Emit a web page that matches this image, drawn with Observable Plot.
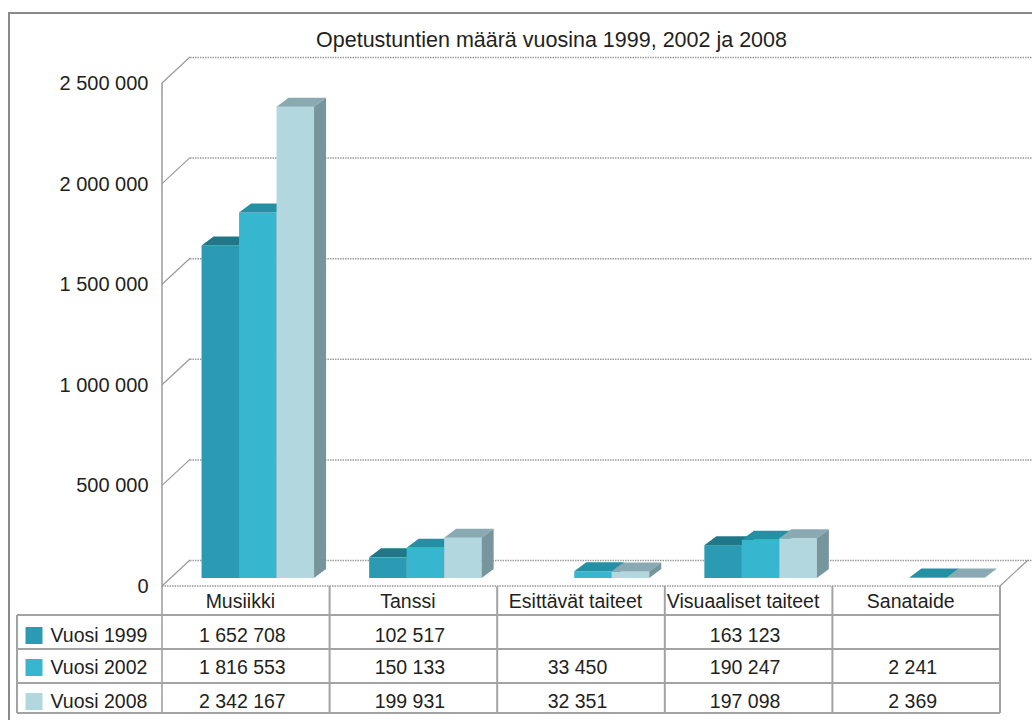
<!DOCTYPE html>
<html><head><meta charset="utf-8">
<script src="https://cdn.jsdelivr.net/npm/d3@7"></script>
<script src="https://cdn.jsdelivr.net/npm/@observablehq/plot@0.6"></script>
<style>
body{margin:0;background:#fff;}
#wrap{position:relative;width:1032px;height:720px;overflow:hidden;background:#fff;}
#chart{position:absolute;left:0;top:0;}
#border{position:absolute;left:8px;top:12px;width:2000px;height:2000px;border-left:2px solid #8a8a8a;border-top:2px solid #8a8a8a;pointer-events:none;}
</style></head><body>
<div id="wrap"><div id="chart"></div><div id="border"></div></div>
<script>
// ---- data ----
const title = "Opetustuntien määrä vuosina 1999, 2002 ja 2008";
const categories = ["Musiikki", "Tanssi", "Esittävät taiteet", "Visuaaliset taiteet", "Sanataide"];
const seriesNames = ["Vuosi 1999", "Vuosi 2002", "Vuosi 2008"];
const values1999 = [1652708, 102517, null, 163123, null];
const values2002 = [1816553, 150133, 33450, 190247, 2241];
const values2008 = [2342167, 199931, 32351, 197098, 2369];
const yTicks = [0, 500000, 1000000, 1500000, 2000000, 2500000];

// ---- style ----
const FONT = "'Liberation Sans', Arial, sans-serif";
const TXT = "#231f20";
const colors = ["#2a9bb2", "#36b7cf", "#b3d7df"];
const topColors = ["#1e7887", "#2490a3", "#8aaab3"];
const sideColors = ["#1a6a78", "#1f8294", "#76959d"];
const W = 1032, H = 720, ML = 162, MR = 32, MT = 75, MB = 142;
const BAND = (W - ML - MR) / categories.length;
const BW = 37.5, INSET = (BAND - BW) / 2, GROUP_DX = 12;
const DX = 12, DY = 9;            // bar depth
const FRONT_DY = 8;               // front plane offset
const BACK_DX = 28, BACK_DY = -18; // back wall offset
const ROW_DY = [23, 57, 89, 123];  // table text rows (from frame bottom)
const ROW_LINES = [37, 71, 105, 135];
const LEGEND_LEFT = 145;

const series = [values1999, values2002, values2008];
const fmt = v => v == null ? "" : d3.format(",")(v).replace(/,/g, " ");
const seriesData = i => categories.map((c, j) => ({cat: c, value: series[i][j]})).filter(d => d.value != null);
const barDx = i => GROUP_DX + (i - 1) * BW;

const faces = i => (index, scales) => {
  const g = d3.create("svg:g");
  for (const d of seriesData(i)) {
    const x0 = scales.x(d.cat) + INSET + barDx(i), x1 = x0 + BW;
    const yt = scales.y(d.value), yb = scales.y(0);
    g.append("path").attr("fill", topColors[i])
      .attr("d", `M${x0},${yt}L${x0 + DX},${yt - DY}L${x1 + DX},${yt - DY}L${x1},${yt}Z`);
    g.append("path").attr("fill", sideColors[i])
      .attr("d", `M${x1},${yt}L${x1 + DX},${yt - DY}L${x1 + DX},${yb - DY}L${x1},${yb}Z`);
  }
  return g.node();
};

const deco = (index, scales, values, dims) => {
  const L = dims.marginLeft, R = dims.width - dims.marginRight, B = dims.height - dims.marginBottom;
  const g = d3.create("svg:g").attr("fill", "none");
  const yf0 = scales.y(0) + FRONT_DY;
  const tableBottom = B + ROW_LINES[ROW_LINES.length - 1];
  for (const t of yTicks) {
    g.append("line").attr("x1", L).attr("y1", scales.y(t) + FRONT_DY)
      .attr("x2", L + BACK_DX).attr("y2", scales.y(t) + BACK_DY)
      .attr("stroke", "#9a9a9a").attr("stroke-width", 1.2);
  }
  g.append("line").attr("x1", L).attr("x2", L)
    .attr("y1", scales.y(yTicks[yTicks.length - 1]) + FRONT_DY).attr("y2", tableBottom)
    .attr("stroke", "#9a9a9a").attr("stroke-width", 1.5);
  g.append("line").attr("x1", L).attr("x2", R).attr("y1", yf0).attr("y2", yf0)
    .attr("stroke", "#9a9a9a").attr("stroke-width", 1.5).attr("stroke-dasharray", "1.5,1");
  g.append("line").attr("x1", R).attr("y1", yf0).attr("x2", R + BACK_DX).attr("y2", scales.y(0) + BACK_DY)
    .attr("stroke", "#9a9a9a").attr("stroke-width", 1.2);
  for (const r of ROW_LINES) {
    g.append("line").attr("x1", L - LEGEND_LEFT).attr("x2", R).attr("y1", B + r).attr("y2", B + r)
      .attr("stroke", "#a3a3a3").attr("stroke-width", 2);
  }
  for (let k = 1; k <= categories.length; k++) {
    const x = L + k * BAND;
    g.append("line").attr("x1", x).attr("x2", x).attr("y1", yf0).attr("y2", tableBottom)
      .attr("stroke", "#a3a3a3").attr("stroke-width", 2);
  }
  g.append("line").attr("x1", L - LEGEND_LEFT).attr("x2", L - LEGEND_LEFT)
    .attr("y1", B + ROW_LINES[0]).attr("y2", tableBottom)
    .attr("stroke", "#a3a3a3").attr("stroke-width", 2);
  return g.node();
};

const marks = [
  Plot.ruleY(yTicks, {y: d => d, dy: BACK_DY, insetLeft: BACK_DX, insetRight: -MR,
    stroke: "#9c9c9c", strokeWidth: 1.5, strokeDasharray: "1.5,1"}),
  deco
];
for (let i = 0; i < 3; i++) {
  marks.push(Plot.barY(seriesData(i), {x: "cat", y: "value", fill: colors[i],
    insetLeft: INSET, insetRight: INSET, dx: barDx(i)}));
  marks.push(faces(i));
}
marks.push(
  Plot.text(yTicks, {y: d => d, text: fmt, frameAnchor: "left", textAnchor: "end", lineAnchor: "middle",
    dx: -14, dy: FRONT_DY, fill: TXT, fontSize: 20}),
  Plot.text([title], {text: d => d, frameAnchor: "top", lineAnchor: "middle", dx: -30, dy: -35,
    fill: TXT, fontSize: 21.5}),
  Plot.text(categories, {x: d => d, text: d => d, frameAnchor: "bottom", lineAnchor: "middle",
    dx: -6, dy: ROW_DY[0], fill: TXT, fontSize: 19.5})
);
for (let i = 0; i < 3; i++) {
  marks.push(
    Plot.text(seriesData(i), {x: "cat", text: d => fmt(d.value), frameAnchor: "bottom", lineAnchor: "middle",
      dx: -4, dy: ROW_DY[i + 1], fill: TXT, fontSize: 19.5}),
    Plot.dot([seriesNames[i]], {frameAnchor: "bottom-left", dx: -128.5, dy: ROW_DY[i + 1],
      symbol: "square", r: 9.6, fill: colors[i]}),
    Plot.text([seriesNames[i]], {text: d => d, frameAnchor: "bottom-left", textAnchor: "start", lineAnchor: "middle",
      dx: -112, dy: ROW_DY[i + 1], fill: TXT, fontSize: 19.5})
  );
}

const chart = Plot.plot({
  width: W, height: H,
  marginLeft: ML, marginRight: MR, marginTop: MT, marginBottom: MB,
  style: {fontFamily: FONT, fontSize: "20px", background: "transparent", color: TXT},
  x: {type: "band", domain: categories, padding: 0, round: false, axis: null},
  y: {domain: [0, 2500000], axis: null},
  marks
});
document.getElementById("chart").appendChild(chart);
</script>
</body></html>
